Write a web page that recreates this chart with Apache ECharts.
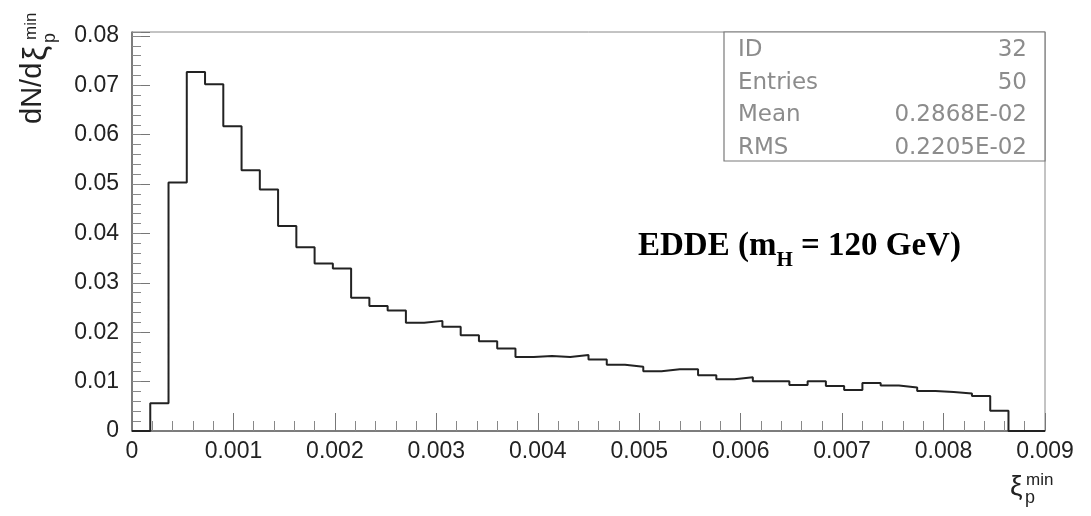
<!DOCTYPE html>
<html><head><meta charset="utf-8">
<script src="https://cdn.jsdelivr.net/npm/echarts@6/dist/echarts.min.js"></script>
<style>html,body{margin:0;padding:0;background:#fff}#c{width:1091px;height:516px}</style>
</head><body><div id="c"></div>
<script>
// ---- data ----
const binLow = 0;
const binWidth = 0.00018;           // 50 bins over 0 .. 0.009
const binContents = [
  0, 0.0056, 0.0503, 0.0727, 0.0702, 0.0617, 0.0528, 0.0489, 0.0415, 0.0372,
  0.0339, 0.0329, 0.0270, 0.0253, 0.0244, 0.0219, 0.0223, 0.0211, 0.0194, 0.0182,
  0.0167, 0.0150, 0.0152, 0.0150, 0.0154, 0.0145, 0.0134, 0.0130, 0.0121, 0.0125,
  0.0125, 0.0113, 0.0105, 0.0109, 0.0101, 0.0101, 0.0093, 0.0101, 0.0091, 0.0083,
  0.0097, 0.0092, 0.0088, 0.0081, 0.0079, 0.0076, 0.0071, 0.0041, 0, 0
];
const xRange = [0, 0.009];
const yRange = [0, 0.0808];
const statLabels = ['ID', 'Entries', 'Mean', 'RMS'];
const statValues = ['32', '50', '0.2868E-02', '0.2205E-02'];
const annotationMain = ['EDDE (m', ' = 120 GeV)'];
const annotationSub = 'H';

// ---- build step outline from bins ----
const stepData = binContents.map((v, i) => [+(binLow + i * binWidth).toFixed(6), v]);
stepData.push([+(binLow + binContents.length * binWidth).toFixed(6), 0]);

const chart = echarts.init(document.getElementById('c'), null, {renderer: 'canvas'});
const sans = 'Liberation Sans';
const axisGray = '#666';

const statGraphics = [{
  type: 'rect', shape: {x: 724, y: 32, width: 321, height: 129},
  style: {fill: '#fff', stroke: '#7a7a7a', lineWidth: 1.2}, z: 10
}];
statLabels.forEach((t, i) => {
  const y = 50 + i * 32.7;
  statGraphics.push({type: 'text', x: 738, y: y, z: 11,
    style: {text: t, font: '23px "DejaVu Sans"', fill: '#8c8c8c', textAlign: 'left', textVerticalAlign: 'middle'}});
  statGraphics.push({type: 'text', x: 1027, y: y, z: 11,
    style: {text: statValues[i], font: '23px "DejaVu Sans"', fill: '#8c8c8c', textAlign: 'right', textVerticalAlign: 'middle'}});
});

const option = {
  animation: false,
  backgroundColor: '#fff',
  grid: {left: 132, right: 46, top: 32, bottom: 85, show: true, borderColor: '#888', borderWidth: 1},
  xAxis: {
    type: 'value', min: xRange[0], max: xRange[1], interval: 0.001,
    axisLine: {lineStyle: {color: axisGray, width: 1.5}},
    axisTick: {inside: true, length: 18, lineStyle: {color: '#777'}},
    minorTick: {show: true, splitNumber: 5, length: 10, lineStyle: {color: '#888'}},
    splitLine: {show: false},
    axisLabel: {fontSize: 23, fontFamily: sans, color: '#222', margin: 9,
      formatter: v => v === 0 ? '0' : v.toFixed(3)}
  },
  yAxis: [{
    type: 'value', min: yRange[0], max: yRange[1], interval: 0.01,
    axisLine: {lineStyle: {color: axisGray, width: 1.5}},
    axisTick: {inside: true, length: 18, lineStyle: {color: '#777'}},
    splitLine: {show: false},
    axisLabel: {fontSize: 23, fontFamily: sans, color: '#222', margin: 13,
      formatter: v => {
        const k = Math.round(v * 100);
        return Math.abs(v * 100 - k) < 1e-6 ? (k === 0 ? '0' : (k / 100).toFixed(2)) : '';
      }}
  }, {
    type: 'value', min: yRange[0], max: yRange[1], interval: 0.002, position: 'left',
    axisLine: {show: false},
    axisTick: {inside: true, length: 9, lineStyle: {color: '#888'}},
    splitLine: {show: false},
    axisLabel: {show: false}
  }],
  series: [{
    type: 'line', step: 'end', data: stepData, yAxisIndex: 0,
    symbol: 'none', lineStyle: {color: '#222', width: 2}, z: 5
  }],
  graphic: statGraphics.concat([
    {type: 'text', x: 638, y: 221, z: 12, style: {
      text: '{b|' + annotationMain[0] + '}{s|' + annotationSub + '}{b|' + annotationMain[1] + '}',
      textAlign: 'left', textVerticalAlign: 'top',
      rich: {
        b: {fontFamily: 'Liberation Serif', fontWeight: 'bold', fontSize: 33, lineHeight: 50, color: '#111'},
        s: {fontFamily: 'Liberation Serif', fontWeight: 'bold', fontSize: 21, lineHeight: 21, verticalAlign: 'bottom', color: '#111'}
      }}},
    // y-axis title (rotated)
    {type: 'text', x: 33, y: 124, rotation: Math.PI / 2, z: 12,
      style: {text: 'dN/d', font: '29px "Liberation Sans"', fill: '#222', textAlign: 'left', textVerticalAlign: 'middle'}},
    {type: 'text', x: 37, y: 61, rotation: Math.PI / 2, z: 12,
      style: {text: 'ξ', font: '34px "Liberation Sans"', fill: '#222', textAlign: 'left', textVerticalAlign: 'middle'}},
    {type: 'text', x: 31, y: 40, rotation: Math.PI / 2, z: 12,
      style: {text: 'min', font: '17px "Liberation Sans"', fill: '#222', textAlign: 'left', textVerticalAlign: 'middle'}},
    {type: 'text', x: 50, y: 43, rotation: Math.PI / 2, z: 12,
      style: {text: 'p', font: '18px "Liberation Sans"', fill: '#222', textAlign: 'left', textVerticalAlign: 'middle'}},
    // x-axis title
    {type: 'text', x: 1010, y: 487, z: 12,
      style: {text: 'ξ', font: '28px "Liberation Sans"', fill: '#222', textAlign: 'left', textVerticalAlign: 'middle'}},
    {type: 'text', x: 1026, y: 480, z: 12,
      style: {text: 'min', font: '17px "Liberation Sans"', fill: '#222', textAlign: 'left', textVerticalAlign: 'middle'}},
    {type: 'text', x: 1025, y: 498, z: 12,
      style: {text: 'p', font: '18px "Liberation Sans"', fill: '#222', textAlign: 'left', textVerticalAlign: 'middle'}}
  ])
};
chart.setOption(option);
</script>
</body></html>
